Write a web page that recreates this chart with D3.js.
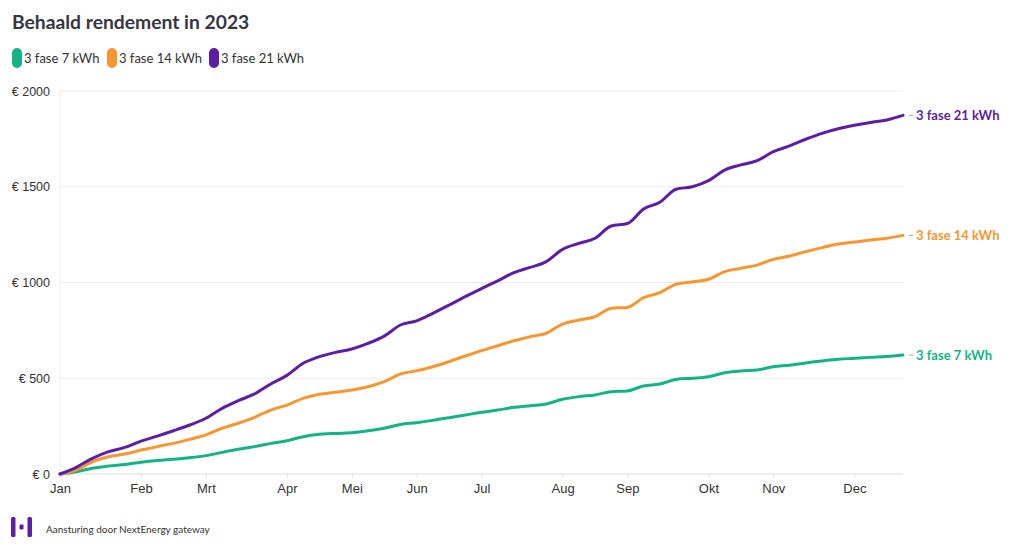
<!DOCTYPE html>
<html><head><meta charset="utf-8">
<script src="https://cdn.jsdelivr.net/npm/d3@7"></script>
<style>
html,body{margin:0;padding:0;background:#fff;}
svg{display:block;font-family:"Source Sans Pro",Lato,"Noto Sans",sans-serif;}
</style></head><body>
<svg id="chart" width="1020" height="552"></svg>
<script>
const title = "Behaald rendement in 2023";
const seriesNames = ["3 fase 7 kWh", "3 fase 14 kWh", "3 fase 21 kWh"];
const seriesColors = ["#14b386", "#f8972f", "#5b1ea5"];
const monthLabels = ["Jan","Feb","Mrt","Apr","Mei","Jun","Jul","Aug","Sep","Okt","Nov","Dec"];
const monthWeeks = [0,5,9,14,18,22,26,31,35,40,44,49];
const yTicks = [0,500,1000,1500,2000];
const weeks = d3.range(53);
const fase7 = [0,12,30,42,50,61,70,77,85,96,113,129,143,160,174,195,207,212,216,226,239,259,268,280,294,308,322,334,348,357,366,390,404,413,430,434,460,470,494,500,508,529,538,543,560,568,580,590,599,604,609,613,621];
const fase14 = [0,21,64,90,104,125,143,160,181,204,239,265,296,334,360,395,416,427,439,456,482,522,539,560,587,616,644,670,696,717,735,783,804,821,865,870,921,947,991,1003,1017,1057,1074,1091,1121,1138,1161,1182,1201,1211,1222,1231,1246];
const fase21 = [0,35,82,117,139,172,198,226,256,291,343,383,418,470,515,578,613,635,653,682,720,778,800,839,882,926,968,1009,1051,1079,1109,1173,1204,1231,1295,1308,1384,1419,1487,1500,1532,1587,1614,1636,1683,1713,1748,1779,1803,1821,1836,1849,1873];
const footer = "Aansturing door NextEnergy gateway";

const series = [fase7, fase14, fase21];
const svg = d3.select("#chart");
const pLeft = 60, pRight = 903, pTop = 91, pBottom = 474;
const x = d3.scaleLinear().domain([0, 52]).range([pLeft, pRight]);
const y = d3.scaleLinear().domain([0, 2000]).range([pBottom, pTop]);

// title
svg.append("text").attr("x", 12).attr("y", 29).text(title)
  .attr("font-size", 19.3).attr("font-weight", 700).attr("fill", "#363642");

// legend
const legX = [12, 107, 209];
seriesNames.forEach((n, i) => {
  svg.append("rect").attr("x", legX[i]).attr("y", 48).attr("width", 10).attr("height", 20)
    .attr("rx", 5).attr("fill", seriesColors[i]);
  svg.append("text").attr("x", legX[i] + 12).attr("y", 63).text(n)
    .attr("font-size", 13).attr("fill", "#333");
});

// grid
const g = svg.append("g");
g.selectAll("line.grid").data(yTicks).join("line")
  .attr("x1", pLeft).attr("x2", pRight).attr("y1", d => y(d)).attr("y2", d => y(d))
  .attr("stroke", d => d === 0 ? "#dcdcdc" : "#ececec").attr("stroke-width", 1);
g.append("line").attr("x1", pLeft).attr("x2", pLeft).attr("y1", pTop).attr("y2", pBottom)
  .attr("stroke", "#ececec");

// y axis labels
const yAxis = d3.axisLeft(y).tickValues(yTicks).tickSize(0).tickPadding(10).tickFormat(d => "€ " + d);
const ya = svg.append("g").attr("transform", `translate(${pLeft},0)`).call(yAxis);
ya.select(".domain").remove();
ya.selectAll("text").attr("font-size", 12.5).attr("fill", "#333").attr("font-family", null);

// x axis
const xAxis = d3.axisBottom(x).tickValues(monthWeeks).tickSize(4).tickPadding(6)
  .tickFormat((d, i) => monthLabels[i]);
const xa = svg.append("g").attr("transform", `translate(0,${pBottom})`).call(xAxis);
xa.select(".domain").remove();
xa.selectAll("line").attr("stroke", "#e2e2e2");
xa.selectAll("text").attr("font-size", 13).attr("fill", "#333").attr("font-family", null);

// lines
const line = d3.line().x((d, i) => x(weeks[i])).y(d => y(d)).curve(d3.curveMonotoneX);
series.forEach((s, i) => {
  svg.append("path").attr("d", line(s)).attr("fill", "none")
    .attr("stroke", seriesColors[i]).attr("stroke-width", 3)
    .attr("stroke-linejoin", "round").attr("stroke-linecap", "round");
});

// end labels
series.forEach((s, i) => {
  const yy = y(s[s.length - 1]);
  svg.append("line").attr("x1", pRight + 6).attr("x2", pRight + 10).attr("y1", yy).attr("y2", yy)
    .attr("stroke", "#aaa").attr("stroke-width", 1);
  svg.append("text").attr("x", pRight + 13).attr("y", yy).attr("dy", "0.35em")
    .text(seriesNames[i]).attr("font-size", 13).attr("font-weight", 700).attr("fill", seriesColors[i]);
});

// footer logo
const logo = svg.append("g").attr("fill", "#5b1ea5");
logo.append("rect").attr("x", 11).attr("y", 517).attr("width", 4.5).attr("height", 20).attr("rx", 1.5);
logo.append("rect").attr("x", 19.5).attr("y", 524.5).attr("width", 4).attr("height", 5).attr("rx", 1);
logo.append("rect").attr("x", 27.5).attr("y", 517).attr("width", 4.5).attr("height", 20).attr("rx", 1.5);
svg.append("text").attr("x", 46).attr("y", 533).text(footer)
  .attr("font-size", 10).attr("fill", "#333");
</script>
</body></html>
